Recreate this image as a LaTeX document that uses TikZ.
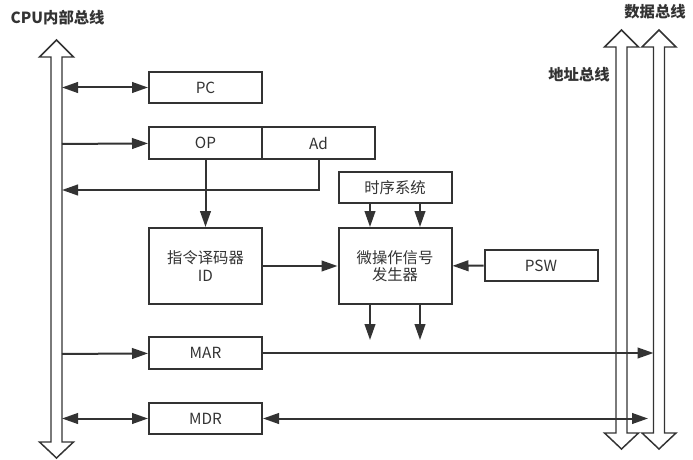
\documentclass[tikz,border=0pt]{standalone}
\usepackage{fontspec}
\setmainfont{Noto Sans CJK SC}
\usepackage{tikz}
\usetikzlibrary{calc, arrows.meta}

\definecolor{ink}{HTML}{333333}

\newcommand{\busarrow}[4]{%
  % #1 centre x, #2 top tip y, #3 bottom tip y, #4 name
  \draw[bus] (#1-5.5,#2+17) -- (#1-17,#2+17) -- (#1,#2) -- (#1+17,#2+17)
    -- (#1+5.5,#2+17) -- (#1+5.5,#3-16) -- (#1+17,#3-16) -- (#1,#3)
    -- (#1-17,#3-16) -- (#1-5.5,#3-16) -- cycle;
  \coordinate (#4L) at (#1-5.5,#2);
  \coordinate (#4R) at (#1+5.5,#2);
}

\begin{document}
\begin{tikzpicture}[x=0.75pt, y=-0.75pt,
    font=\fontsize{11.5}{13}\selectfont, text=ink,
    >={Triangle[length=12pt,width=8pt]},
    reg/.style={draw=ink, line width=1.5pt, inner sep=0pt,
      minimum width=84.75pt, minimum height=23.5pt, fill=white},
    bigbox/.style={reg, minimum height=57pt, align=center},
    bus/.style={draw=ink, line width=1.1pt, fill=white, line join=miter},
    lbl/.style={font=\fontsize{11.5}{13}\selectfont\bfseries},
    link/.style={draw=ink, line width=1.5pt}]
      \useasboundingbox (0,0) rectangle (693,460);

      \busarrow{56.5}{40}{458}{cpu}
      \busarrow{621.5}{30}{449}{addr}
      \busarrow{659}{30}{449}{data}

      \node[lbl, anchor=west] (cpulbl) at (6,18) {CPU内部总线};
      \node[lbl] (datalbl) at (655,12) {数据总线};
      \node[lbl] (addrlbl) at (579,75) {地址总线};

      \node[reg] (PC) at (205.5,87.5) {PC};
      \node[reg] (OP) at (205.5,143) {OP};
      \node[reg] (Ad) at (318.5,143) {Ad};
      \node[bigbox] (ID) at (205.5,266) {指令译码器\\ID};
      \node[reg] (timing) at (395,187.5) {时序系统};
      \node[bigbox] (micro) at (395,266) {微操作信号\\发生器};
      \node[reg] (PSW) at (541,265.5) {PSW};
      \node[reg] (MAR) at (205.5,353) {MAR};
      \node[reg] (MDR) at (205.5,418.5) {MDR};

      \coordinate (cpuPC) at (62,87.5);
      \coordinate (cpuOP) at (62,144);
      \coordinate (cpuAd) at (62,190);
      \coordinate (cpuMAR) at (62,354);
      \coordinate (cpuMDR) at (62,418.5);
      \coordinate (busMAR) at (653.5,353);
      \coordinate (busMDR) at (648,418.5);
      \coordinate (out1) at (370,340);
      \coordinate (out2) at (420,340);

      \draw[link, <->] (cpuPC) -- (PC);
      \draw[link, ->] (cpuOP) -- (OP);
      \draw[link, ->] (Ad.south) |- (cpuAd);
      \draw[link, ->] (OP) -- (ID);
      \draw[link, ->] (ID) -- (micro);
      \draw[link, ->] ([xshift=-18.75pt]timing.south) -- ([xshift=-18.75pt]micro.north);
      \draw[link, ->] ([xshift=18.75pt]timing.south) -- ([xshift=18.75pt]micro.north);
      \draw[link, ->] ([xshift=-18.75pt]micro.south) -- (out1);
      \draw[link, ->] ([xshift=18.75pt]micro.south) -- (out2);
      \draw[link, ->] (PSW) -- (micro);
      \draw[link, ->] (cpuMAR) -- (MAR);
      \draw[link, ->] (MAR) -- (busMAR);
      \draw[link, <->] (cpuMDR) -- (MDR);
      \draw[link, <->] (MDR) -- (busMDR);
    \end{tikzpicture}
\end{document}
